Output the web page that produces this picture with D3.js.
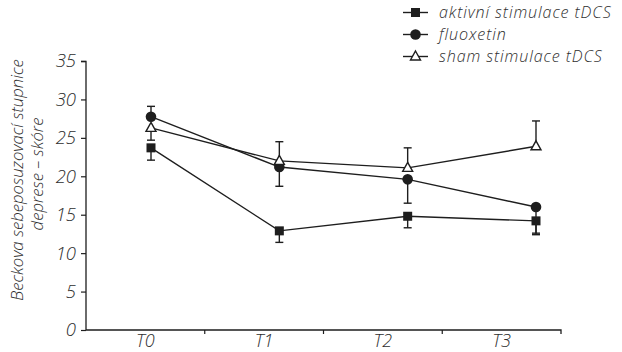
<!DOCTYPE html>
<html><head><meta charset="utf-8">
<script src="https://cdn.jsdelivr.net/npm/d3@7"></script>
<style>
body{margin:0;background:#fff;}
text{font-family:"Open Sans","Noto Sans",sans-serif;font-style:italic;font-weight:300;fill:#2e2e2e;}
</style></head>
<body><svg id="c" width="622" height="352"></svg>
<script>
const categories = ["T0","T1","T2","T3"];
const yTicks = [0,5,10,15,20,25,30,35];
const seriesNames = ["aktivní stimulace tDCS","fluoxetin","sham stimulace tDCS"];
const aktivni = [23.7, 12.9, 14.8, 14.2];
const aktivniErr = [22.1, 11.4, 13.3, 12.6];
const fluoxetin = [27.75, 21.2, 19.6, 16.0];
const fluoxetinErr = [29.1, 18.7, 16.5, 12.4];
const sham = [26.3, 22.0, 21.1, 23.9];
const shamErr = [24.7, 24.5, 23.7, 27.2];
const yTitle = ["Beckova sebeposuzovací stupnice","deprese – skóre"];

const series = [
  {name: seriesNames[0], values: aktivni, err: aktivniErr, sym: "square"},
  {name: seriesNames[1], values: fluoxetin, err: fluoxetinErr, sym: "circle"},
  {name: seriesNames[2], values: sham, err: shamErr, sym: "triangle"}
];

const svg = d3.select("#c");
const ink = "#1e1e1e";
const y = d3.scaleLinear().domain([0,35]).range([330,61]);
const xBand = d3.scaleBand().domain(categories).range([86,561]);
const xPt = d3.scalePoint().domain(categories).range([151,536]);

// y axis
const ya = svg.append("g").attr("transform","translate(86,0)")
  .call(d3.axisLeft(y).tickValues(yTicks).tickSize(5).tickPadding(5));
ya.select(".domain").attr("stroke",ink).attr("stroke-width",1.3).attr("d","M-5,61.5H0V330");
ya.selectAll(".tick line").attr("stroke",ink).attr("stroke-width",1.2);
ya.selectAll(".tick text").attr("font-size",18.5).attr("fill","#2e2e2e").attr("font-family",null);

// x axis
const xa = svg.append("g").attr("transform","translate(0,330)")
  .call(d3.axisBottom(xBand).tickSize(0).tickPadding(4));
xa.select(".domain").attr("stroke",ink).attr("stroke-width",1.3).attr("d","M86,0H561V4");
xa.selectAll(".tick text").attr("font-size",18).attr("fill","#2e2e2e").attr("font-family",null);
xa.selectAll(".bt").data(categories.slice(1)).enter().append("line")
  .attr("x1",d=>xBand(d)).attr("x2",d=>xBand(d)).attr("y1",0).attr("y2",4)
  .attr("stroke",ink).attr("stroke-width",1.2);

// y title
const tt = svg.append("g").attr("transform","translate(0,180) rotate(-90)");
tt.append("text").attr("x",0).attr("y",23).attr("text-anchor","middle").attr("font-size",16.7).text(yTitle[0]);
tt.append("text").attr("x",6).attr("y",43).attr("text-anchor","middle").attr("font-size",16.7).text(yTitle[1]);

function drawSym(g, sym, cx, cy){
  if(sym==="square") g.append("rect").attr("x",cx-4.5).attr("y",cy-4.5).attr("width",9).attr("height",9).attr("fill",ink);
  else if(sym==="circle") g.append("circle").attr("cx",cx).attr("cy",cy).attr("r",5.3).attr("fill",ink);
  else g.append("path").attr("d",`M${cx},${cy-5.5}L${cx+5},${cy+3.5}L${cx-5},${cy+3.5}Z`)
    .attr("fill","#fff").attr("stroke",ink).attr("stroke-width",1.4);
}

const line = d3.line().x((d,i)=>xPt(categories[i])).y(d=>y(d));
const plot = svg.append("g");
// error bars
series.forEach(s=>{
  s.values.forEach((v,i)=>{
    const cx = xPt(categories[i]);
    plot.append("line").attr("x1",cx).attr("x2",cx).attr("y1",y(v)).attr("y2",y(s.err[i]))
      .attr("stroke",ink).attr("stroke-width",1.4);
    plot.append("line").attr("x1",cx-4).attr("x2",cx+4).attr("y1",y(s.err[i])).attr("y2",y(s.err[i]))
      .attr("stroke",ink).attr("stroke-width",1.4);
  });
});
series.forEach(s=>{
  plot.append("path").attr("d",line(s.values)).attr("fill","none").attr("stroke",ink).attr("stroke-width",1.4);
});
series.forEach(s=>{
  s.values.forEach((v,i)=>drawSym(plot,s.sym,xPt(categories[i]),y(v)));
});

// legend
const lg = svg.append("g");
series.forEach((s,i)=>{
  const ly = 12.5 + i*22;
  lg.append("line").attr("x1",403).attr("x2",428).attr("y1",ly).attr("y2",ly).attr("stroke",ink).attr("stroke-width",1.4);
  drawSym(lg, s.sym, 415.5, ly);
  lg.append("text").attr("x",439).attr("y",ly+5.5).attr("font-size",16.1)
    .attr("letter-spacing",0.9).text(s.name);
});
</script></body></html>
